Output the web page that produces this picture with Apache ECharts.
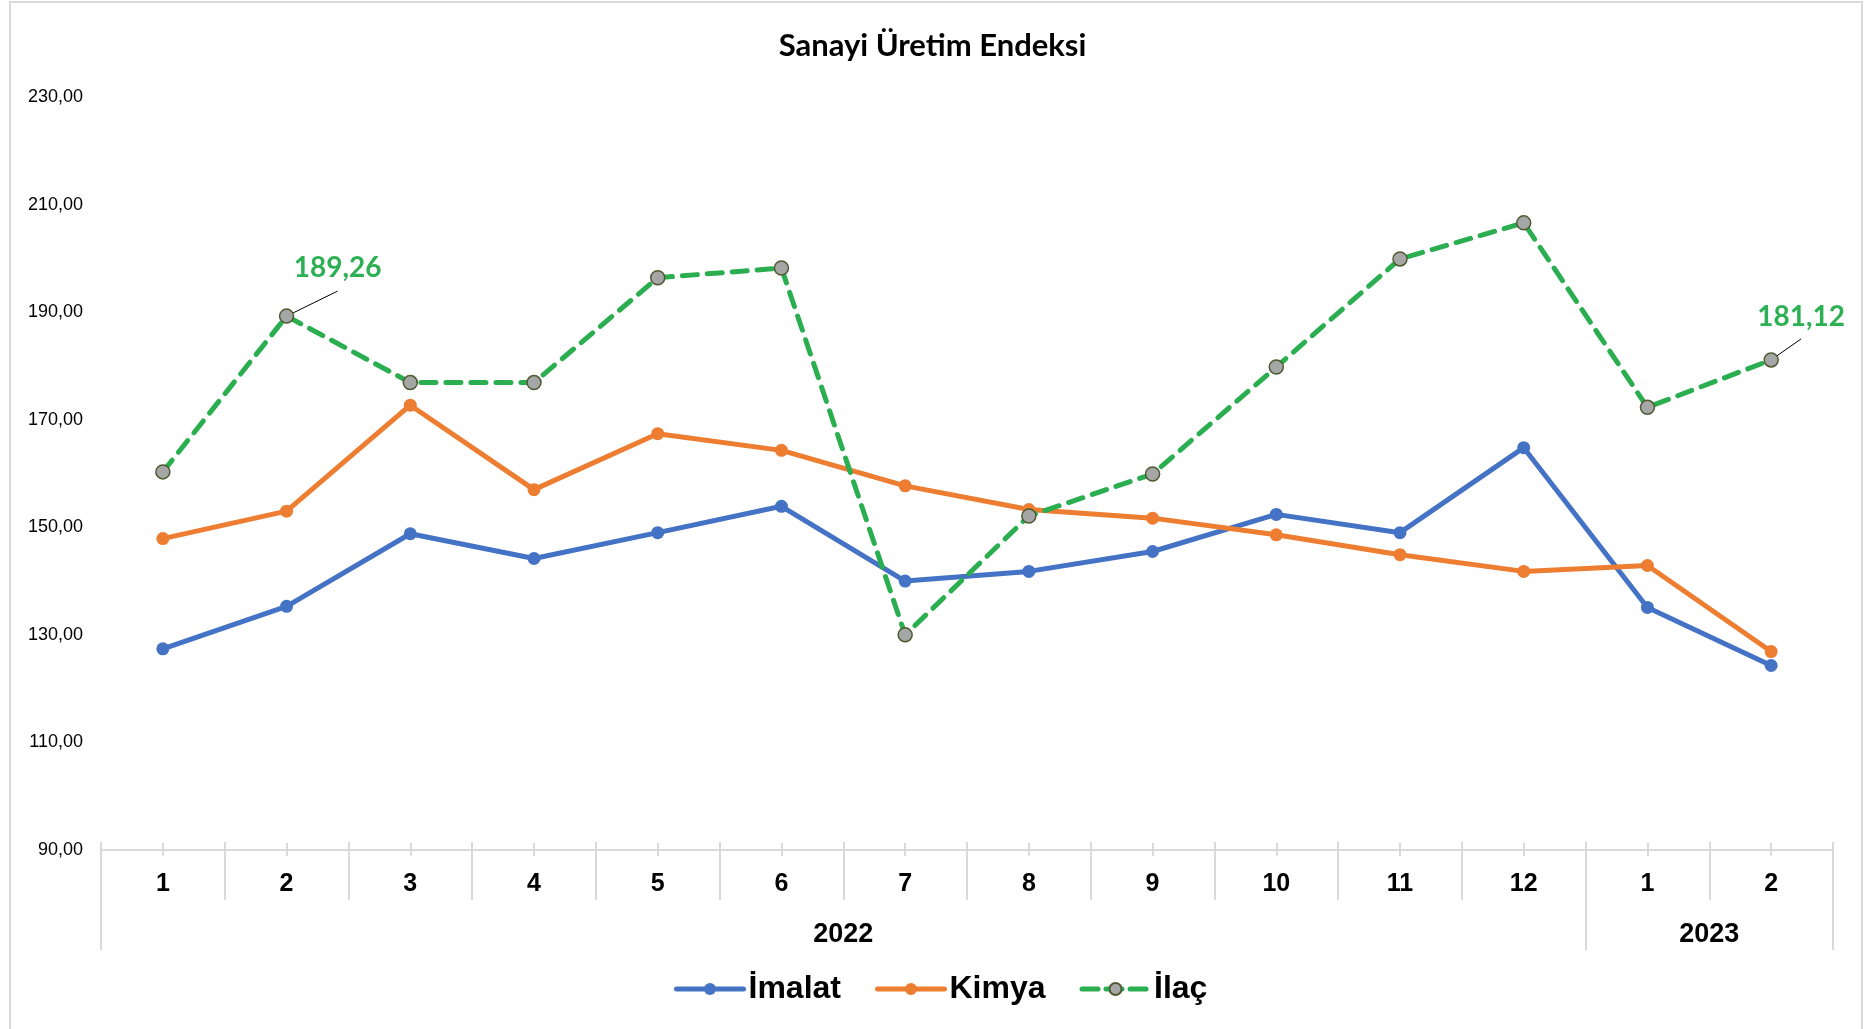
<!DOCTYPE html>
<html>
<head>
<meta charset="utf-8">
<title>Sanayi Üretim Endeksi</title>
<script src="https://cdn.jsdelivr.net/npm/echarts@6.0.0/dist/echarts.min.js"></script>
<style>
  html, body { margin: 0; padding: 0; background: #fff; }
  #main { width: 1865px; height: 1029px; }
</style>
</head>
<body>
<div id="main"></div>
<script>
"use strict";

// months on the lower axis row, years on the second row
var months = ["1", "2", "3", "4", "5", "6", "7", "8", "9", "10", "11", "12", "1", "2"];
var years = ["2022", "2023"];
var monthsPerYear = [12, 2];

var imalat = [127.4, 135.3, 148.8, 144.2, 149.0, 153.9, 140.0, 141.8, 145.5, 152.4, 149.0, 164.8, 135.1, 124.3];
var kimya = [147.9, 153.0, 172.7, 157.0, 167.4, 164.3, 157.7, 153.3, 151.7, 148.6, 144.9, 141.8, 142.9, 126.9];
var ilac = [160.3, 189.26, 176.9, 176.9, 196.4, 198.2, 130.0, 152.1, 159.9, 179.8, 199.9, 206.6, 172.3, 181.12];
var ilacLabeled = [1, 13];

var yMin = 90;
var yMax = 230;
var yStep = 20;

// year row: boundary slots (one more than months), year name in the middle of its span
var yearSlots = [];
var yearEdges = [0];
for (var i = 0; i <= months.length; i++) {
  yearSlots.push("");
}
var start = 0;
years.forEach(function (y, k) {
  yearSlots[start + monthsPerYear[k] / 2] = y;
  start += monthsPerYear[k];
  yearEdges.push(start);
});

var fmt = function (v) {
  return Number(v).toFixed(2).replace(".", ",");
};

var axisGray = "#d9d9d9";
// label offset from its point + vertical padding; the wide (invisible) side
// padding makes the leader line attach under the text, not on its left side
var labelShift = { 1: [51, -48, 9], 13: [30, -43, 8] };

var chartDom = document.getElementById("main");
var myChart = echarts.init(chartDom);
var option;

option = {
  animation: false,
  backgroundColor: "#fff",
  title: {
    text: "Sanayi Üretim Endeksi",
    left: "center",
    top: 25,
    textStyle: {
      fontFamily: "Lato",
      fontWeight: "bold",
      fontSize: 31,
      color: "#000",
    },
  },
  graphic: [
    {
      type: "rect",
      shape: { x: 10, y: 2, width: 1852, height: 1060 },
      style: { fill: "none", stroke: axisGray, lineWidth: 2 },
      silent: true,
    },
  ],
  legend: {
    top: 968,
    left: 669,
    itemWidth: 67,
    itemHeight: 15,
    itemGap: 34,
    lineStyle: { width: 5, cap: "round" },
    textStyle: {
      fontFamily: "Liberation Sans",
      fontWeight: "bold",
      fontSize: 32,
      color: "#000",
    },
    data: [
      "İmalat",
      "Kimya",
      { name: "İlaç", lineStyle: { width: 5, type: [16, 8], cap: "round" } },
    ],
  },
  grid: {
    left: 101,
    right: 32,
    top: 97,
    bottom: 179,
    containLabel: false,
    outerBoundsMode: "none",
  },
  xAxis: [
    {
      type: "category",
      position: "bottom",
      data: months,
      boundaryGap: true,
      axisLine: { lineStyle: { color: axisGray, width: 2 } },
      axisTick: { show: true, length: 50, lineStyle: { color: axisGray, width: 2 } },
      axisLabel: {
        interval: 0,
        margin: 22,
        fontFamily: "Liberation Sans",
        fontWeight: "bold",
        fontSize: 25,
        color: "#000",
      },
    },
    {
      // short marks above the line at the band edges
      type: "category",
      position: "bottom",
      data: months,
      boundaryGap: true,
      axisLine: { show: false },
      axisTick: { show: true, inside: true, length: 8, lineStyle: { color: axisGray, width: 2 } },
      axisLabel: { show: false },
    },
    {
      // small marks crossing the line at each month
      type: "category",
      position: "bottom",
      offset: 6,
      data: months,
      boundaryGap: true,
      axisLine: { show: false },
      axisTick: {
        show: true,
        inside: true,
        alignWithLabel: true,
        length: 13,
        lineStyle: { color: axisGray, width: 2 },
      },
      axisLabel: { show: false },
    },
    {
      type: "category",
      position: "bottom",
      data: yearSlots,
      boundaryGap: false,
      axisLine: { show: false },
      axisTick: {
        show: true,
        length: 100,
        interval: function (idx) {
          return yearEdges.indexOf(idx) >= 0;
        },
        lineStyle: { color: axisGray, width: 2 },
      },
      axisLabel: {
        margin: 71,
        interval: function (idx, val) {
          return val !== "";
        },
        fontFamily: "Liberation Sans",
        fontWeight: "bold",
        fontSize: 27,
        color: "#000",
      },
    },
  ],
  yAxis: {
    type: "value",
    min: yMin,
    max: yMax,
    interval: yStep,
    axisLine: { show: false },
    axisTick: { show: false },
    splitLine: { show: false },
    axisLabel: {
      margin: 18,
      fontFamily: "Liberation Sans",
      fontSize: 18,
      color: "#000",
      formatter: fmt,
    },
  },
  series: [
    {
      name: "İmalat",
      type: "line",
      data: imalat,
      symbol: "circle",
      symbolSize: 13,
      lineStyle: { color: "#4472C4", width: 5 },
      itemStyle: { color: "#4472C4" },
    },
    {
      name: "Kimya",
      type: "line",
      data: kimya,
      symbol: "circle",
      symbolSize: 13,
      lineStyle: { color: "#ED7D31", width: 5 },
      itemStyle: { color: "#ED7D31" },
    },
    {
      name: "İlaç",
      type: "line",
      data: ilac.map(function (v, i) {
        var shown = ilacLabeled.indexOf(i) >= 0;
        var pv = shown ? labelShift[i][2] : 0;
        return {
          value: v,
          label: { show: shown, padding: [pv, 50, pv, 50] },
          labelLine: { show: shown },
        };
      }),
      symbol: "circle",
      symbolSize: 14,
      lineStyle: { color: "#2AAE4F", width: 5, type: [15, 10], cap: "round" },
      itemStyle: { color: "#A6A6A6", borderColor: "#4E5B31", borderWidth: 1.5 },
      label: {
        position: "inside",
        backgroundColor: "rgba(255,255,255,0)",
        fontFamily: "Lato",
        fontWeight: "bold",
        fontSize: 28,
        color: "#2DB053",
        formatter: function (p) {
          return fmt(p.value);
        },
      },
      labelLine: {
        lineStyle: { color: "#000", width: 1 },
      },
      labelLayout: function (params) {
        var s = labelShift[params.dataIndex];
        return s ? { dx: s[0], dy: s[1] } : {};
      },
    },
  ],
};

option && myChart.setOption(option);
</script>
</body>
</html>
